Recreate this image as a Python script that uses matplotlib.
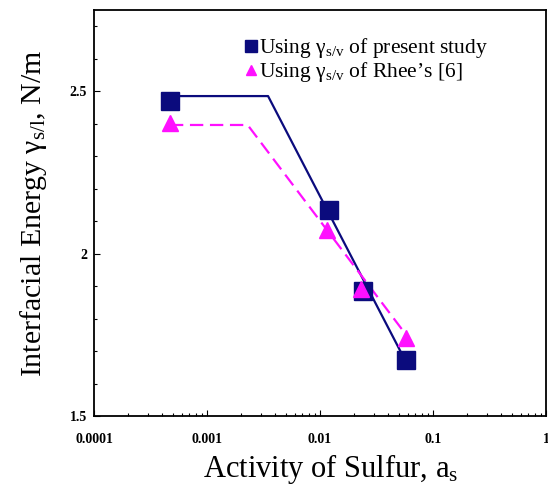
import matplotlib
matplotlib.use("Agg")
import matplotlib.pyplot as plt
from matplotlib.lines import Line2D
from matplotlib.ticker import FixedLocator, LogLocator, NullFormatter, MultipleLocator

plt.rcParams['font.family'] = ['Liberation Serif', 'DejaVu Serif']
plt.rcParams['mathtext.fontset'] = 'custom'
plt.rcParams['mathtext.rm'] = 'Liberation Serif'
plt.rcParams['mathtext.it'] = 'Liberation Serif'

# Measured points
act_present = [0.00047, 0.0120, 0.0240, 0.0578]
gam_present = [2.471, 2.133, 1.885, 1.671]
act_rhee = [0.00047, 0.0116, 0.0232, 0.0578]
gam_rhee = [2.403, 2.074, 1.890, 1.740]

# Fitted (broken) lines
fit_present_x = [0.00047, 0.00347, 0.0560]
fit_present_y = [2.485, 2.485, 1.675]
fit_rhee_x = [0.00047, 0.00229, 0.0645]
fit_rhee_y = [2.396, 2.396, 1.728]

xticks = [0.0001, 0.001, 0.01, 0.1, 1]
xticklabels = ['0.0001', '0.001', '0.01', '0.1', '1']
yticks = [1.5, 2.0, 2.5]
yticklabels = ['1.5', '2', '2.5']

navy = '#0b0b7d'
mag = '#ff10ff'

fig = plt.figure(figsize=(5.48, 4.86), dpi=100)
ax = fig.add_axes([94/548, 1-416/486, (546-94)/548, (416-10)/486])

ax.plot(fit_present_x, fit_present_y, '-', color=navy, lw=1.6, zorder=2)
ax.plot(fit_rhee_x, fit_rhee_y, '--', color=mag, lw=1.6, dashes=(6, 3), zorder=2)
ax.plot(act_present, gam_present, 's', color=navy, ms=13, ls='none', zorder=3)
ax.plot(act_rhee, gam_rhee, '^', color=mag, ms=11, ls='none', zorder=4)

ax.set_xscale('log')
ax.set_xlim(1e-4, 1)
ax.set_ylim(1.5, 2.75)
ax.xaxis.set_major_locator(FixedLocator(xticks))
ax.set_xticklabels(xticklabels, fontweight='bold', fontsize=10)
ax.xaxis.set_minor_locator(LogLocator(base=10, subs=range(2, 10)))
ax.xaxis.set_minor_formatter(NullFormatter())
ax.yaxis.set_major_locator(FixedLocator(yticks))
ax.set_yticklabels(yticklabels, fontweight='bold', fontsize=10)
ax.yaxis.set_minor_locator(MultipleLocator(0.1))
ax.tick_params(which='both', direction='in', top=False, right=False)
ax.tick_params(which='major', length=4, width=0.8)
ax.tick_params(axis='x', which='major', pad=12)
ax.tick_params(axis='y', which='major', pad=5)
ax.tick_params(which='minor', length=2.5, width=0.8)
for s in ax.spines.values():
    s.set_linewidth(1.3)

ax.set_xlabel(r'Activity of Sulfur, a$_\mathregular{s}$', fontsize=22)
ax.xaxis.set_label_coords(0.523, -0.088)
ax.set_ylabel(r'Interfacial Energy $\mathregular{\gamma_{s/l}}$, N/m', fontsize=21.5, labelpad=15)

handles = [Line2D([], [], marker='s', color=navy, ls='none', ms=8),
           Line2D([], [], marker='^', color=mag, ls='none', ms=7)]
labels = [r'Using $\mathregular{\gamma_{s/v}}$ of present study',
          r"Using $\mathregular{\gamma_{s/v}}$ of Rhee’s [6]"]
ax.legend(handles, labels, loc='upper left', bbox_to_anchor=(0.33, 0.935),
          frameon=False, fontsize=15.5, handlelength=0.7, handletextpad=0.05,
          borderpad=0, labelspacing=0.0, borderaxespad=0)

fig.savefig('out.png', dpi=100)
